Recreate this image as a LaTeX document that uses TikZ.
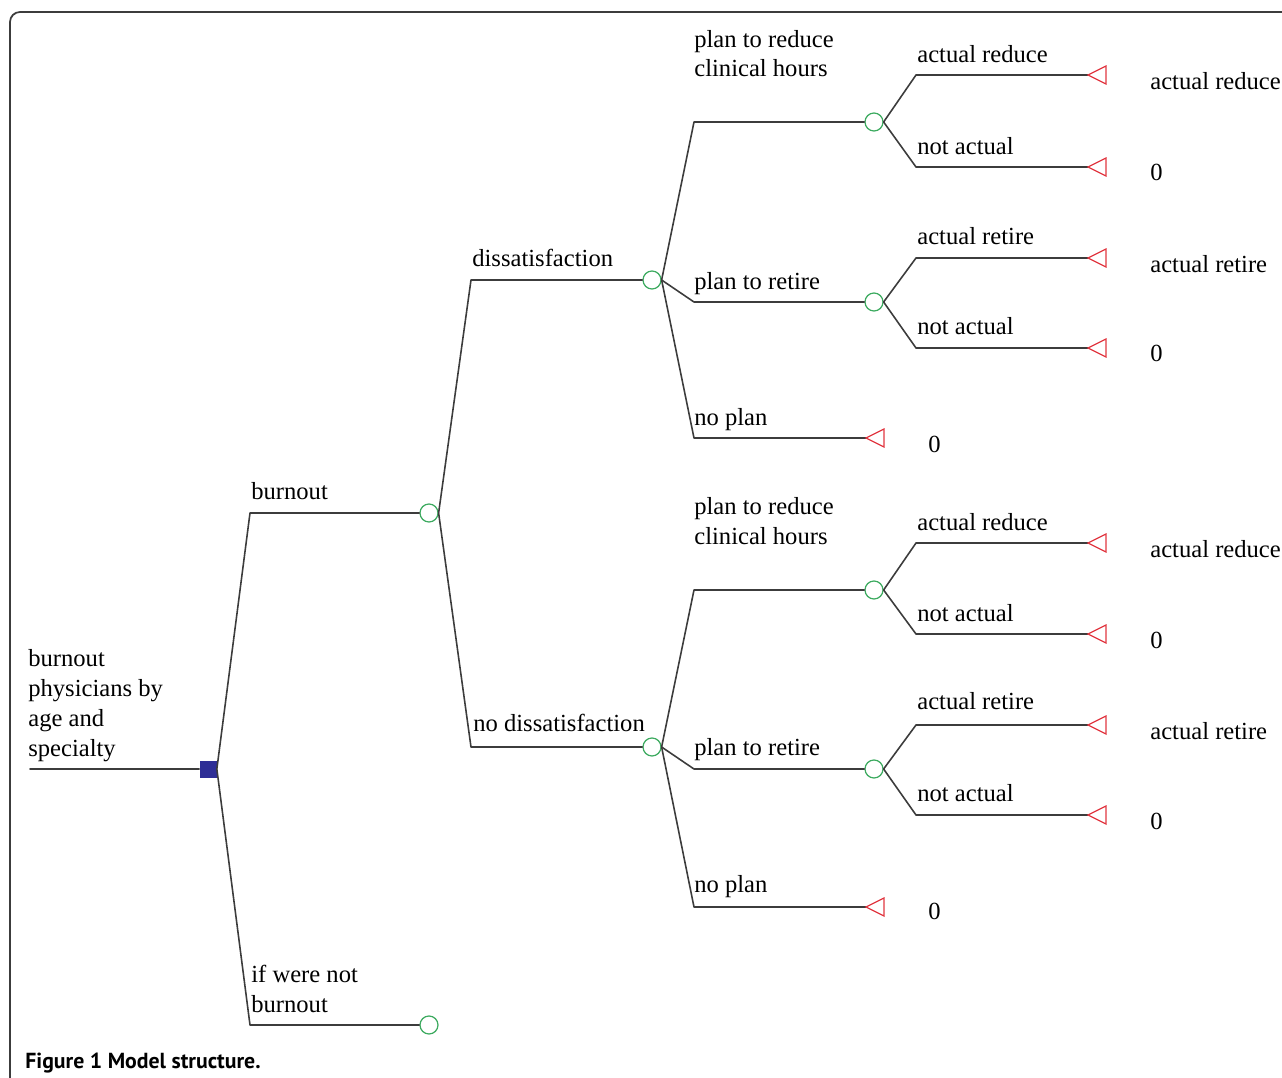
\documentclass[tikz,border=0pt]{standalone}
\usepackage{fontspec}
\setmainfont{Liberation Serif}
\newfontfamily\capfont{PT Sans}

\definecolor{decblue}{RGB}{46,46,150}
\definecolor{chgreen}{RGB}{60,170,95}
\definecolor{termred}{RGB}{225,55,65}
\definecolor{branchgray}{RGB}{60,60,60}

\begin{document}
\begin{tikzpicture}[x=0.02cm, y=-0.02cm, line join=round, line cap=round,
		branch/.style={draw=branchgray, line width=0.9pt},
		chance/.style={circle, draw=chgreen, line width=0.7pt, fill=white, minimum size=0.36cm, inner sep=0pt},
		decision/.style={rectangle, fill=decblue, minimum size=0.34cm, inner sep=0pt},
		term/.style={draw=termred, line width=0.7pt, line join=miter},
		lbl/.style={anchor=base west, inner sep=0pt, font=\fontsize{14}{17}\selectfont, align=left}]
				\useasboundingbox (0,0) rectangle (1282,1078);
				\clip (0,0) rectangle (1282,1078);
				
				% frame
				\draw[branchgray, line width=1pt, rounded corners=0.2cm] (10,1100) -- (10,12) -- (1300,12);
				
				\def\xa{250}
				\def\xb{471}
				\def\xc{694}
				\def\xd{916}
				\def\xt{1088}
				\def\xs{866}
				
				\coordinate (root) at (30,769);
				\node[decision] (dec) at (208,769) {};
				
				\coordinate (bBurn) at (\xa,513);
				\coordinate (bNotBurn) at (\xa,1025);
				\node[chance] (cBurn) at (429,513) {};
				\node[chance] (cNotBurn) at (429,1025) {};
				
				\coordinate (bDis) at (\xb,280);
				\coordinate (bNoDis) at (\xb,747);
				\node[chance] (cDis) at (652,280) {};
				\node[chance] (cNoDis) at (652,747) {};
				
				\coordinate (bRed) at (\xc,122);
				\coordinate (bRet) at (\xc,302);
				\coordinate (bNoPlan) at (\xc,438);
				\coordinate (bRedN) at (\xc,590);
				\coordinate (bRetN) at (\xc,769);
				\coordinate (bNoPlanN) at (\xc,907);
				\node[chance] (cRed) at (874,122) {};
				\node[chance] (cRet) at (874,302) {};
				\node[chance] (cRedN) at (874,590) {};
				\node[chance] (cRetN) at (874,769) {};
				\coordinate (tNoPlan) at (\xs,438);
				\coordinate (tNoPlanN) at (\xs,907);
				
				\coordinate (bRedA) at (\xd,75);
				\coordinate (bRedB) at (\xd,167);
				\coordinate (bRetA) at (\xd,258);
				\coordinate (bRetB) at (\xd,348);
				\coordinate (bRedNA) at (\xd,543);
				\coordinate (bRedNB) at (\xd,634);
				\coordinate (bRetNA) at (\xd,725);
				\coordinate (bRetNB) at (\xd,815);
				
				\coordinate (tRedA) at (\xt,75);
				\coordinate (tRedB) at (\xt,167);
				\coordinate (tRetA) at (\xt,258);
				\coordinate (tRetB) at (\xt,348);
				\coordinate (tRedNA) at (\xt,543);
				\coordinate (tRedNB) at (\xt,634);
				\coordinate (tRetNA) at (\xt,725);
				\coordinate (tRetNB) at (\xt,815);
				
				\draw[branch] (root) -- (dec.west);
				\draw[branch] (dec.east) -- (bBurn) -- (cBurn.west);
				\draw[branch] (dec.east) -- (bNotBurn) -- (cNotBurn.west);
				
				\draw[branch] (cBurn.east) -- (bDis) -- (cDis.west);
				\draw[branch] (cBurn.east) -- (bNoDis) -- (cNoDis.west);
				
				\draw[branch] (cDis.east) -- (bRed) -- (cRed.west);
				\draw[branch] (cDis.east) -- (bRet) -- (cRet.west);
				\draw[branch] (cDis.east) -- (bNoPlan) -- (tNoPlan);
				\draw[branch] (cNoDis.east) -- (bRedN) -- (cRedN.west);
				\draw[branch] (cNoDis.east) -- (bRetN) -- (cRetN.west);
				\draw[branch] (cNoDis.east) -- (bNoPlanN) -- (tNoPlanN);
				
				\draw[branch] (cRed.east) -- (bRedA) -- (tRedA);
				\draw[branch] (cRed.east) -- (bRedB) -- (tRedB);
				\draw[branch] (cRet.east) -- (bRetA) -- (tRetA);
				\draw[branch] (cRet.east) -- (bRetB) -- (tRetB);
				\draw[branch] (cRedN.east) -- (bRedNA) -- (tRedNA);
				\draw[branch] (cRedN.east) -- (bRedNB) -- (tRedNB);
				\draw[branch] (cRetN.east) -- (bRetNA) -- (tRetNA);
				\draw[branch] (cRetN.east) -- (bRetNB) -- (tRetNB);
				
				\foreach \t in {tNoPlan,tNoPlanN,tRedA,tRedB,tRetA,tRetB,tRedNA,tRedNB,tRetNA,tRetNB}
					\draw[term] (\t) -- ++(18,-9) -- ++(0,18) -- cycle;
				
				% multi-line labels sit on the baseline of their last line
				\node[lbl] (lRoot) at (28,756) {burnout\\physicians by\\age and\\specialty};
				\node[lbl] (lBurn) at (251,499) {burnout};
				\node[lbl] (lNotBurn) at (251,1012) {if were not\\burnout};
				\node[lbl] (lDis) at (472,266) {dissatisfaction};
				\node[lbl] (lNoDis) at (473,731) {no dissatisfaction};
				
				\node[lbl] (lRed) at (\xc,77) {plan to reduce\\clinical hours};
				\node[lbl] (lRet) at (\xc,289) {plan to retire};
				\node[lbl] (lNoPlan) at (\xc,425) {no plan};
				\node[lbl] (lRedN) at (\xc,544) {plan to reduce\\clinical hours};
				\node[lbl] (lRetN) at (\xc,755) {plan to retire};
				\node[lbl] (lNoPlanN) at (\xc,892) {no plan};
				
				\node[lbl] (lRedA) at (917,63) {actual reduce};
				\node[lbl] (lRedB) at (917,154) {not actual};
				\node[lbl] (lRetA) at (917,244) {actual retire};
				\node[lbl] (lRetB) at (917,334) {not actual};
				\node[lbl] (lRedNA) at (917,530) {actual reduce};
				\node[lbl] (lRedNB) at (917,621) {not actual};
				\node[lbl] (lRetNA) at (917,709) {actual retire};
				\node[lbl] (lRetNB) at (917,801) {not actual};
				
				\node[lbl] (pRedA) at (1150,90) {actual reduce};
				\node[lbl] (pRedB) at (1150,180) {0};
				\node[lbl] (pRetA) at (1150,272) {actual retire};
				\node[lbl] (pRetB) at (1150,361) {0};
				\node[lbl] (pNoPlan) at (928,452) {0};
				\node[lbl] (pRedNA) at (1150,557) {actual reduce};
				\node[lbl] (pRedNB) at (1150,648) {0};
				\node[lbl] (pRetNA) at (1150,739) {actual retire};
				\node[lbl] (pRetNB) at (1150,829) {0};
				\node[lbl] (pNoPlanN) at (928,919) {0};
				
				\node[anchor=base west, inner sep=0pt, font=\capfont\bfseries\fontsize{12.4}{15}\selectfont] (cap) at (25,1068) {Figure 1 Model structure.};
				
			\end{tikzpicture}
\end{document}
